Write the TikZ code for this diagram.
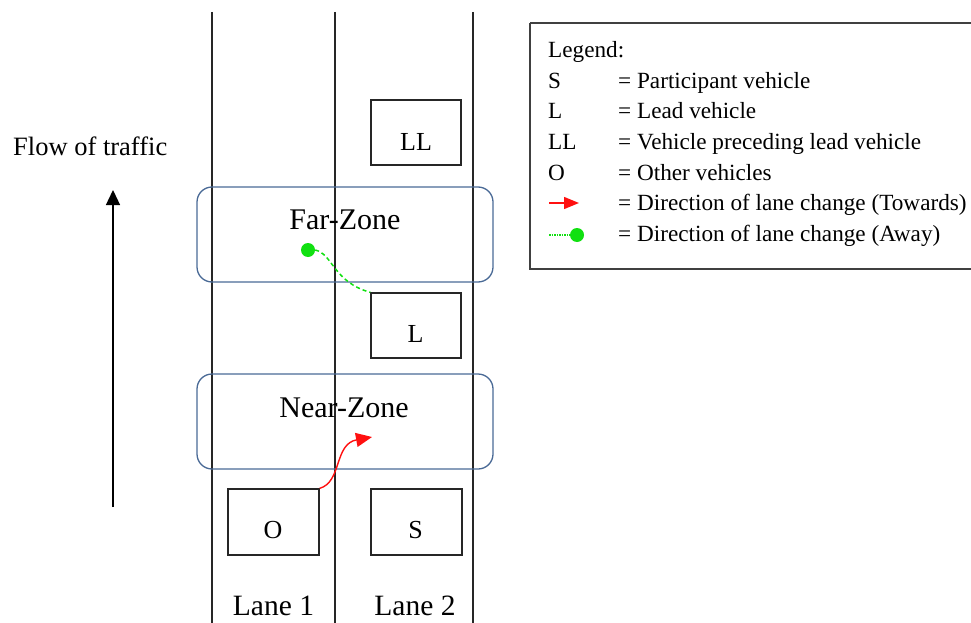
\documentclass[tikz,border=0pt]{standalone}
\usepackage{fontspec}
\setmainfont{Liberation Serif}
\usetikzlibrary{arrows.meta}
\definecolor{zoneblue}{HTML}{4A6A96}
\definecolor{awaygreen}{HTML}{11E011}
\definecolor{towardred}{HTML}{FF1010}

\begin{document}
\begin{tikzpicture}[x=1pt,y=-1pt,
  lane/.style={draw=black!85, line width=1.3pt},
  zone/.style={draw=zoneblue, line width=1.3pt, rounded corners=15pt},
  car/.style={draw=black!85, line width=1.3pt, minimum width=90pt, minimum height=65pt, inner sep=0pt},
  carlabel/.style={anchor=base, font=\fontsize{26}{30}\selectfont, inner sep=0pt},
  zonelabel/.style={anchor=base, font=\fontsize{30}{34}\selectfont, inner sep=0pt},
  lanelabel/.style={anchor=base, font=\fontsize{29.5}{34}\selectfont, inner sep=0pt},
  legtext/.style={anchor=base west, font=\fontsize{23.2}{27}\selectfont, inner sep=0pt},
  toward/.style={draw=towardred, line width=1.4pt, -{Triangle[length=16pt,width=14pt]}},
  away/.style={draw=awaygreen, line width=1.5pt, dash pattern=on 4pt off 3pt},
  awaydot/.style={circle, fill=awaygreen, inner sep=0pt, minimum size=14pt}]

\useasboundingbox (0,0) rectangle (971,623);

% lane markings
\draw[lane] (212,12) -- (212,630);
\draw[lane] (335,12) -- (335,630);
\draw[lane] (473,12) -- (473,630);

% zones
\draw[zone] (197,187) rectangle (493,282);
\draw[zone] (197,374) rectangle (493,469);
\node[zonelabel] (farlbl) at (345,229) {Far-Zone};
\node[zonelabel] (nearlbl) at (344,417) {Near-Zone};

% vehicles
\node[car] (ll) at (416,132.5) {};
\node[car] (l) at (416,325.5) {};
\node[car, minimum width=91pt, minimum height=66pt] (o) at (273.5,522) {};
\node[car, minimum width=91pt, minimum height=66pt] (s) at (416.5,522) {};
\node[carlabel] (lltxt) at (416,150) {LL};
\node[carlabel] (ltxt) at (415.5,342) {L};
\node[carlabel] (otxt) at (273,538) {O};
\node[carlabel] (stxt) at (415.5,538) {S};

% lane change paths
\node[awaydot] (dot) at (308,250) {};
\draw[away] (dot.east) .. controls (333,254) and (333,282) .. (l.north west);
\coordinate (redtip) at (372,437);
\draw[toward] (o.north east) .. controls (342,482) and (334,444) .. (redtip);

% lane names
\node[lanelabel] (lane1) at (273.5,615) {Lane 1};
\node[lanelabel] (lane2) at (415,615) {Lane 2};

% flow direction
\node[anchor=base west, font=\fontsize{26.5}{30}\selectfont, inner sep=0pt] (flow) at (13,155) {Flow of traffic};
\coordinate (flowbot) at (113,507);
\coordinate (flowtop) at (113,190);
\draw[line width=1.3pt, -{Triangle[length=15pt,width=14pt]}] (flowbot) -- (flowtop);

% legend
\draw[draw=black!75, line width=1.8pt] (530,23) -- (990,23) (530,23) -- (530,269) -- (990,269);
\node[legtext] (leg) at (548,58) {Legend:};
\node[legtext] (k1) at (548,88.5) {S};
\node[legtext] (v1) at (618,88.5) {= Participant vehicle};
\node[legtext] (k2) at (548,119) {L};
\node[legtext] (v2) at (618,119) {= Lead vehicle};
\node[legtext] (k3) at (548,149.5) {LL};
\node[legtext] (v3) at (618,149.5) {= Vehicle preceding lead vehicle};
\node[legtext] (k4) at (548,180) {O};
\node[legtext] (v4) at (618,180) {= Other vehicles};
\coordinate (ra) at (549,203);
\coordinate (rb) at (579,203);
\draw[toward, -{Triangle[length=15pt,width=12pt]}] (ra) -- (rb);
\node[legtext] (v5) at (618,210.5) {= Direction of lane change (Towards)};
\node[awaydot] (gdot) at (577,235) {};
\coordinate (ga) at (549,235);
\draw[draw=awaygreen, line width=1.4pt, dash pattern=on 1.5pt off 1pt] (ga) -- (gdot.west);
\node[legtext] (v6) at (618,241) {= Direction of lane change (Away)};
\end{tikzpicture}
\end{document}
